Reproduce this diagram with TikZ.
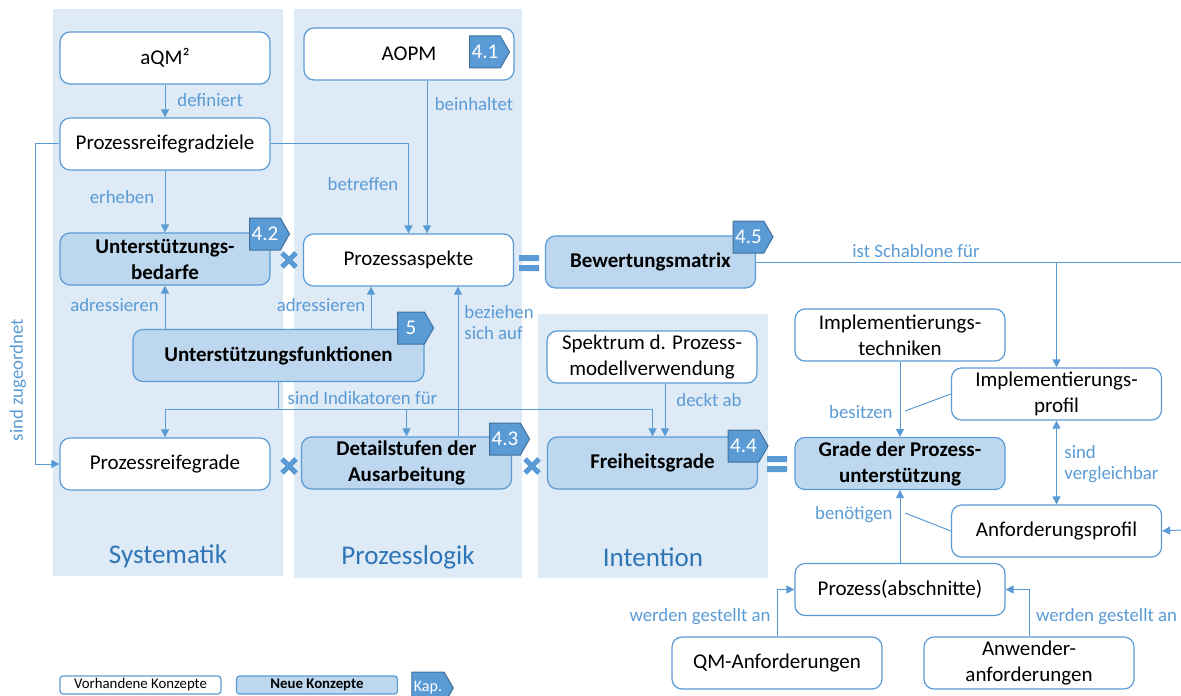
\documentclass[tikz,border=0pt]{standalone}
\usepackage{fontspec}
\setmainfont{Carlito}
\usetikzlibrary{arrows.meta, shapes.symbols}

\definecolor{accent}{HTML}{5B9BD5}
\definecolor{panelbg}{HTML}{DEEAF6}
\definecolor{newfill}{HTML}{BDD7EE}
\definecolor{kapline}{HTML}{41719C}
\definecolor{titletext}{HTML}{2E75B6}

\begin{document}
\begin{tikzpicture}[
    x=0.5pt, y=-0.5pt,
    % Knotenstile
    old concept/.style={draw=accent, line width=0.6pt, fill=white, rounded corners=5pt,
        minimum width=105pt, minimum height=26pt, inner sep=1pt, align=center,
        font=\fontsize{10.5}{13}\selectfont},
    new concept/.style={old concept, fill=newfill, font=\fontsize{10.5}{13}\selectfont\bfseries},
    legend box/.style={old concept, minimum width=80.5pt, minimum height=9pt, rounded corners=1.5pt,
        font=\fontsize{7.4}{8}\selectfont},
    kap/.style={signal, signal to=east, signal pointer angle=120, fill=accent, draw=kapline,
        line width=0.5pt, text=white, minimum height=16pt, minimum width=18pt, inner sep=1pt,
        font=\fontsize{10.5}{12}\selectfont},
    rel label/.style={text=accent, font=\fontsize{9.4}{10.8}\selectfont, inner sep=1pt, align=left},
    area title/.style={text=titletext, font=\fontsize{13.5}{15}\selectfont},
    % Kantenstile
    plain link/.style={draw=accent, line width=0.5pt},
    link/.style={plain link, -{Triangle[length=4pt, width=4pt]}},
    both link/.style={plain link, {Triangle[length=4pt, width=4pt]}-{Triangle[length=4pt, width=4pt]}},
    % Bereiche und Symbole
    panel/.style={fill=panelbg},
    cross sign/.pic={\draw[accent, line width=2.6pt] (-7,-7) -- (7,7) (-7,7) -- (7,-7);},
    equal sign/.pic={\fill[accent] (-10,-8) rectangle (10,-2) (-10,2) rectangle (10,8);}
]
    \useasboundingbox (0,0) rectangle (1181,695);

    % =========================================================================
    % 1. Bereiche
    % =========================================================================
    \fill[panel] (53,9) rectangle (283,576);
    \fill[panel] (294,9) rectangle (522,578);
    \fill[panel] (538,314) rectangle (768,578);

    \node[area title] (t-sys) at (168,556) {Systematik};
    \node[area title] (t-log) at (408,557) {Prozesslogik};
    \node[area title] (t-int) at (653,557) {Intention};

    % =========================================================================
    % 2. Konzepte
    % =========================================================================
    \node[old concept] (aqm) at (165,58) {aQM²};
    \node[old concept] (ziele) at (165,144) {Prozessreifegradziele};
    \node[new concept] (bedarfe) at (165,259) {Unterstützungs-\\bedarfe};
    \node[old concept] (reife) at (165,464) {Prozessreifegrade};

    \node[old concept] (aopm) at (409,54) {AOPM};
    \node[old concept] (aspekte) at (408.5,260) {Prozessaspekte};
    \node[new concept, minimum width=145.5pt] (funktionen) at (278.5,355.5) {Unterstützungsfunktionen};
    \node[new concept] (detail) at (406.5,463) {Detailstufen der\\Ausarbeitung};

    \node[new concept] (matrix) at (650.5,262) {Bewertungsmatrix};
    \node[old concept] (spektrum) at (652,357) {Spektrum d. Prozess-\\modellverwendung};
    \node[new concept] (freiheit) at (652.5,463) {Freiheitsgrade};

    \node[old concept] (techniken) at (900,335) {Implementierungs-\\techniken};
    \node[new concept] (grade) at (900,463.5) {Grade der Prozess-\\unterstützung};
    \node[old concept] (implprofil) at (1056.5,394) {Implementierungs-\\profil};
    \node[old concept] (anfprofil) at (1056.5,531) {Anforderungsprofil};
    \node[old concept] (prozess) at (900,589.5) {Prozess(abschnitte)};
    \node[old concept] (qm) at (777,663) {QM-Anforderungen};
    \node[old concept] (anwender) at (1029,663) {Anwender-\\anforderungen};

    % Kapitel
    \node[kap] (k41) at (485,52) {4.1};
    \node[kap] (k42) at (265,234) {4.2};
    \node[kap] (k45) at (748.5,237) {4.5};
    \node[kap] (k5) at (411,328) {5};
    \node[kap] (k43) at (505,439) {4.3};
    \node[kap] (k44) at (743.5,446) {4.4};

    % =========================================================================
    % 3. Beziehungen
    % =========================================================================
    \coordinate (beinh) at (427,0);
    \coordinate (adr) at (371,0);
    \coordinate (bez) at (458,0);
    \coordinate (ind) at (0,409);
    \coordinate (deckt) at (665,0);
    \coordinate (schablone end) at (1181,262);
    \coordinate (anf in) at (1181,530);
    \coordinate (besitzen end) at (905,411);
    \coordinate (benoetigen end) at (905,513);

    \draw[link] (aqm) -- (ziele);
    \draw[link] (ziele) -- (bedarfe);
    \draw[link] (ziele.east) -| (aspekte.north);
    \draw[link] (beinh |- aopm.south) -- (beinh |- aspekte.north);
    \draw[link] (ziele.west) -- ++(-24,0) |- (reife.west);

    \draw[link] (funktionen.north -| bedarfe.south) -- (bedarfe.south);
    \draw[link] (adr |- funktionen.north) -- (adr |- aspekte.south);
    \draw[link] (bez |- detail.north) -- (bez |- aspekte.south);

    \draw[plain link] (funktionen.south) -- (funktionen.south |- ind);
    \draw[link] (funktionen.south |- ind) -| (reife.north);
    \draw[link] (funktionen.south |- ind) -| (freiheit.north);
    \draw[link] (detail.north |- ind) -- (detail.north);
    \draw[link] (deckt |- spektrum.south) -- (deckt |- freiheit.north);

    \draw[plain link] (matrix.east) -- (schablone end);
    \draw[link] (matrix.east -| implprofil.north) -- (implprofil.north);
    \draw[link] (anf in) -- (anfprofil.east);
    \draw[both link] (implprofil) -- (anfprofil);

    \draw[link] (techniken) -- (grade);
    \draw[link] (prozess) -- (grade);
    \draw[plain link] (implprofil.west) -- (besitzen end);
    \draw[plain link] (anfprofil.west) -- (benoetigen end);
    \draw[link] (qm.north) |- (prozess.west);
    \draw[link] (anwender.north) |- (prozess.east);

    % Beschriftungen
    \node[rel label, anchor=west] (l-def) at (175,100) {definiert};
    \node[rel label] (l-erh) at (122,197) {erheben};
    \node[rel label] (l-betr) at (363,184) {betreffen};
    \node[rel label] (l-beinh) at (474,104) {beinhaltet};
    \node[rel label] (l-adr1) at (114.5,305) {adressieren};
    \node[rel label] (l-adr2) at (321,305) {adressieren};
    \node[rel label, anchor=west] (l-bez) at (462,322.5) {beziehen\\sich auf};
    \node[rel label] (l-ind) at (362.5,398) {sind Indikatoren für};
    \node[rel label, anchor=west] (l-deckt) at (674,400) {deckt ab};
    \node[rel label] (l-schab) at (916,251) {ist Schablone für};
    \node[rel label, anchor=east] (l-bes) at (895,412) {besitzen};
    \node[rel label, anchor=east] (l-ben) at (895,515) {benötigen};
    \node[rel label, anchor=west] (l-vergl) at (1062,464) {sind\\vergleichbar};
    \node[rel label] (l-qm) at (700,617) {werden gestellt an};
    \node[rel label] (l-anw) at (1106.5,617) {werden gestellt an};
    \node[rel label, rotate=90] (l-zug) at (18,380) {sind zugeordnet};

    % =========================================================================
    % 4. Verknüpfungssymbole
    % =========================================================================
    \pic at (289,260) {cross sign};
    \pic at (289,466) {cross sign};
    \pic at (532,466) {cross sign};
    \pic at (529,263) {equal sign};
    \pic at (777,464) {equal sign};

    % =========================================================================
    % 5. Legende
    % =========================================================================
    \node[legend box] (lg-old) at (140.5,685) {Vorhandene Konzepte};
    \node[legend box, fill=newfill, font=\fontsize{7.4}{8}\selectfont\bfseries] (lg-new) at (317,685) {Neue Konzepte};
    \node[kap, minimum width=16.5pt, font=\fontsize{8}{9}\selectfont] (lg-kap) at (428,688) {Kap.};
\end{tikzpicture}
\end{document}
